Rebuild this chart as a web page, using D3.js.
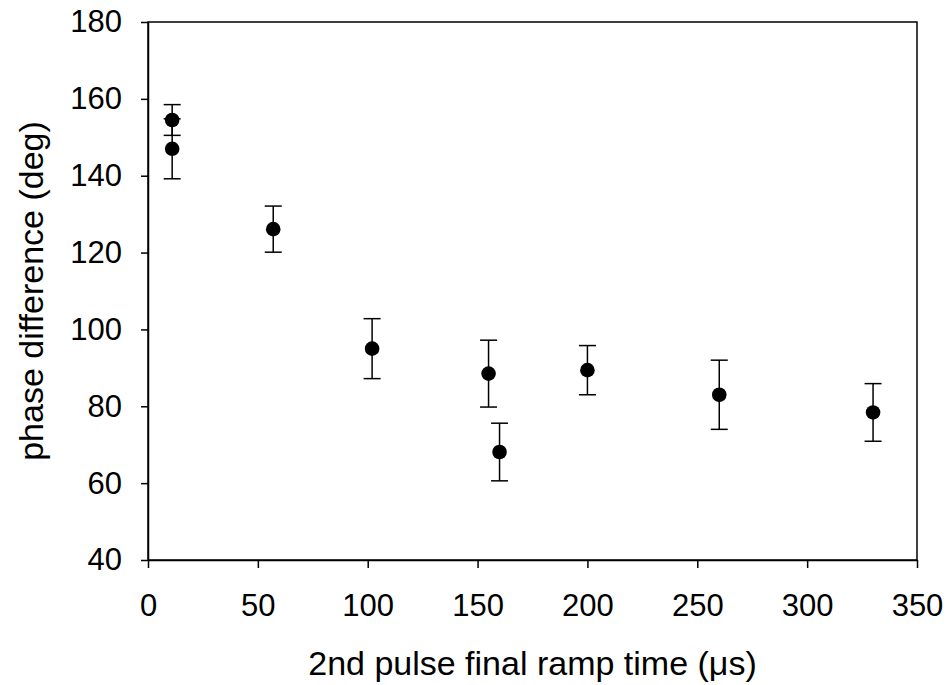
<!DOCTYPE html>
<html>
<head>
<meta charset="utf-8">
<script src="https://cdn.jsdelivr.net/npm/d3@7"></script>
<style>
  body { margin: 0; background: #fff; }
  text { font-family: "Liberation Sans", Arial, sans-serif; }
</style>
</head>
<body>
<svg id="chart" width="950" height="685"></svg>
<script>
// ramp time (us), phase difference (deg), symmetric error (deg)
const rampTime = [11, 11, 57, 102, 155, 160, 200, 260, 330];
const phaseDiff = [154.5, 147, 126.1, 95, 88.5, 68.1, 89.4, 83, 78.4];
const phaseErr = [4, 7.8, 6, 7.8, 8.7, 7.5, 6.4, 9, 7.5];

const xTicks = [0, 50, 100, 150, 200, 250, 300, 350];
const yTicks = [40, 60, 80, 100, 120, 140, 160, 180];

const svg = d3.select("#chart");
const margin = { top: 22, right: 33, bottom: 125, left: 148 };
const width = 950, height = 685;

const x = d3.scaleLinear()
    .domain([0, 350])
    .range([margin.left, width - margin.right]);

const y = d3.scaleLinear()
    .domain([40, 180])
    .range([height - margin.bottom, margin.top]);

const data = rampTime.map((t, i) => ({ t, v: phaseDiff[i], e: phaseErr[i] }));

// frame (top + right)
svg.append("rect")
    .attr("x", x(0))
    .attr("y", y(180))
    .attr("width", x(350) - x(0))
    .attr("height", y(40) - y(180))
    .attr("fill", "none")
    .attr("stroke", "black")
    .attr("stroke-width", 1.5);

// X-axis
const gx = svg.append("g")
    .attr("transform", `translate(0, ${y(40)})`)
    .call(d3.axisBottom(x).tickValues(xTicks).tickSize(8).tickSizeOuter(0).tickPadding(26));
gx.select(".domain").attr("stroke-width", 1.5);
gx.selectAll(".tick line").attr("stroke-width", 1.5);
gx.selectAll("text").attr("font-size", "31px").attr("fill", "black");

// Y-axis
const gy = svg.append("g")
    .attr("transform", `translate(${x(0)}, 0)`)
    .call(d3.axisLeft(y).tickValues(yTicks).tickSize(7).tickSizeOuter(0).tickPadding(19));
gy.select(".domain").attr("stroke-width", 1.5);
gy.selectAll(".tick line").attr("stroke-width", 1.5);
gy.selectAll("text").attr("font-size", "31px").attr("fill", "black");

// error bars
const bars = svg.append("g")
    .attr("stroke", "black")
    .attr("stroke-width", 1.5);

bars.selectAll("line.err")
    .data(data)
    .enter()
    .append("line")
        .attr("class", "err")
        .attr("x1", d => x(d.t))
        .attr("x2", d => x(d.t))
        .attr("y1", d => y(d.v - d.e))
        .attr("y2", d => y(d.v + d.e));

// caps
const capW = 8.5;
["lo", "hi"].forEach(side => {
    bars.selectAll("line.cap-" + side)
        .data(data)
        .enter()
        .append("line")
            .attr("class", "cap-" + side)
            .attr("x1", d => x(d.t) - capW)
            .attr("x2", d => x(d.t) + capW)
            .attr("y1", d => y(side === "lo" ? d.v - d.e : d.v + d.e))
            .attr("y2", d => y(side === "lo" ? d.v - d.e : d.v + d.e));
});

// points
svg.append("g")
    .selectAll("circle")
    .data(data)
    .enter()
    .append("circle")
        .attr("cx", d => x(d.t))
        .attr("cy", d => y(d.v))
        .attr("r", 7.3)
        .attr("fill", "black");

// X-axis label
svg.append("text")
    .attr("x", (x(0) + x(350)) / 2)
    .attr("y", 675)
    .attr("text-anchor", "middle")
    .attr("font-size", "34px")
    .text("2nd pulse final ramp time (\u03bcs)");

// Y-axis label
svg.append("text")
    .attr("transform", "rotate(-90)")
    .attr("x", -(y(40) + y(180)) / 2)
    .attr("y", 43)
    .attr("text-anchor", "middle")
    .attr("font-size", "34px")
    .text("phase difference (deg)");
</script>
</body>
</html>
